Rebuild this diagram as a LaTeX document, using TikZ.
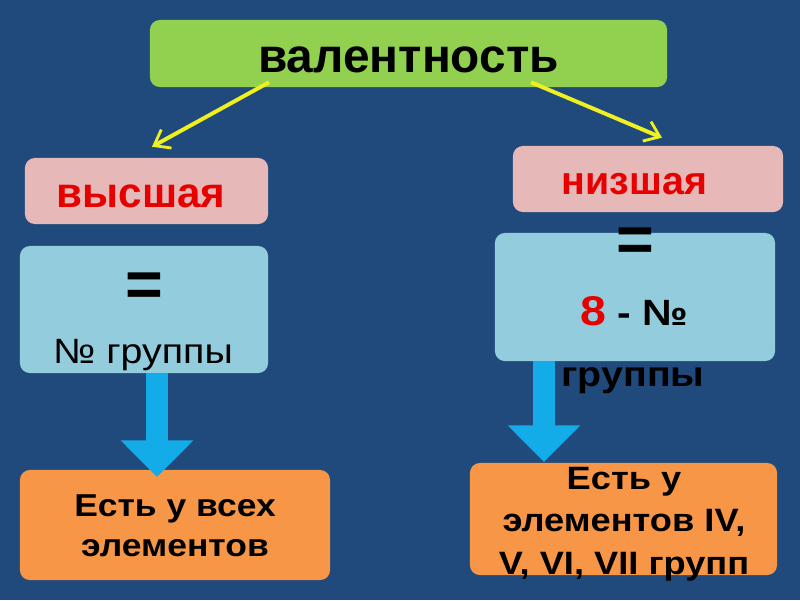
\documentclass[tikz,border=0pt]{standalone}
\usepackage{fontspec}
\setmainfont{Liberation Sans}
\newfontfamily\widefont{Liberation Sans}[FakeStretch=1.12]
\usetikzlibrary{arrows.meta}
\definecolor{slidebg}{HTML}{204A7C}
\definecolor{titlegreen}{HTML}{92D050}
\definecolor{kindpink}{HTML}{E6B9B8}
\definecolor{rulecyan}{HTML}{93CDDD}
\definecolor{groupsorange}{HTML}{F79646}
\definecolor{linkyellow}{HTML}{F0F020}
\definecolor{flowblue}{HTML}{14ACE8}
\definecolor{numred}{HTML}{E60000}
\tikzset{
  card/.style={rounded corners=7pt, inner sep=0pt, align=center},
  link/.style={draw=linkyellow, line width=2.8pt, -{Straight Barb[length=10pt,width=15pt,line width=2pt]}},
  flow/.style={draw=flowblue, line width=15pt, -{Triangle[length=26pt,width=50pt]}}
}
\begin{document}
\begin{tikzpicture}[x=0.025cm,y=-0.025cm]
  % slide background
  \fill[slidebg] (0,0) rectangle (800,600);
  \useasboundingbox (0,0) rectangle (800,600);
  % title
  \node[card, fill=titlegreen, minimum width=12.925cm, minimum height=1.675cm] (valence) at (408.5,53.5) {};
  \node[anchor=base, font=\fontsize{34}{40}\selectfont\bfseries] (valencetxt) at (408.5,72) {валентность};
  % two kinds
  \node[card, fill=kindpink, minimum width=6.075cm, minimum height=1.65cm] (highest) at (146.5,191) {};
  \node[anchor=base, text=numred, font=\fontsize{30}{34}\selectfont\bfseries] (highesttxt) at (141,207) {высшая};
  \node[card, fill=kindpink, minimum width=6.75cm, minimum height=1.65cm] (lowest) at (648,179) {};
  \node[anchor=base, text=numred, font=\fontsize{28}{32}\selectfont\bfseries] (lowesttxt) at (634.5,194) {низшая};
  \draw[link] ([shift={(-139.5,-5)}]valence.south) -- ([shift={(5.5,-11)}]highest.north);
  \draw[link] ([shift={(122.5,-5)}]valence.south) -- ([shift={(14,-8)}]lowest.north);
  % rules (left)
  \node[card, fill=rulecyan, minimum width=6.2cm, minimum height=3.175cm] (highrule) at (144,309.5) {};
  \node[font=\fontsize{46}{50}\selectfont\bfseries] (higheq) at (144,290) {=};
  \node[anchor=base, font=\widefont\fontsize{25}{30}\selectfont] (highgroup) at (143,363) {№ группы};
  % rules (right)
  \node[card, fill=rulecyan, minimum width=7.0cm, minimum height=3.2cm] (lowrule) at (635,297) {};
  \node[font=\fontsize{46}{50}\selectfont\bfseries] (loweq) at (635,245) {=};
  \node[anchor=base, font=\widefont\fontsize{26}{30}\selectfont\bfseries] (lowdiff) at (634,325)
    {\textcolor{numred}{\fontsize{29.5}{32}\selectfont 8} - №};
  \node[anchor=base, font=\widefont\fontsize{25}{30}\selectfont\bfseries] (lowgroup) at (633,386) {группы};
  % which elements
  \node[card, fill=groupsorange, minimum width=7.75cm, minimum height=2.75cm] (allel) at (175,525) {};
  \node[anchor=base, align=center, font=\widefont\fontsize{22.5}{28}\selectfont\bfseries] (alleltxt) at (175,556)
    {Есть у всех\\элементов};
  \node[card, fill=groupsorange, minimum width=7.675cm, minimum height=2.8cm] (someel) at (623.5,519) {};
  \node[anchor=base, align=center, font=\widefont\fontsize{23}{30}\selectfont\bfseries] (someeltxt) at (624,574)
    {Есть у\\элементов IV,\\V, VI, VII групп};
  \coordinate (alltip) at (157,477);
  \coordinate (sometip) at (544,462);
  \draw[flow] (highrule.south -| alltip) -- (alltip);
  \draw[flow] (lowrule.south -| sometip) -- (sometip);
\end{tikzpicture}
\end{document}
